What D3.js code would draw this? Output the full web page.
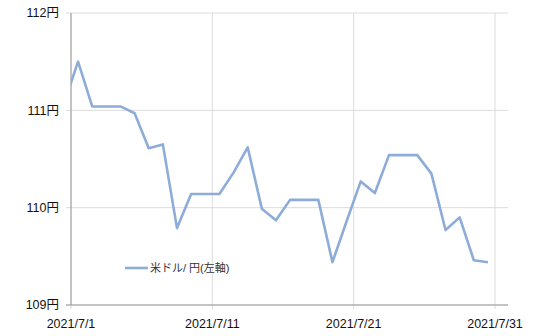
<html>
<head>
<meta charset="utf-8">
<style>
  body { margin: 0; background: #fff; }
  text { font-family: "Liberation Sans", Arial, "Noto Sans CJK JP", sans-serif; }
</style>
</head>
<body>
<svg id="chart" width="540" height="336"></svg>
<script src="https://cdn.jsdelivr.net/npm/d3@7"></script>
<script>
// daily USD/JPY (6/30 is only partly visible at the left edge)
const dates = [
  "2021-06-30", "2021-07-01", "2021-07-02", "2021-07-03", "2021-07-04", "2021-07-05",
  "2021-07-06", "2021-07-07", "2021-07-08", "2021-07-09", "2021-07-10", "2021-07-11",
  "2021-07-12", "2021-07-13", "2021-07-14", "2021-07-15", "2021-07-16", "2021-07-17",
  "2021-07-18", "2021-07-19", "2021-07-20", "2021-07-21", "2021-07-22", "2021-07-23",
  "2021-07-24", "2021-07-25", "2021-07-26", "2021-07-27", "2021-07-28", "2021-07-29",
  "2021-07-30"
]
const usdjpy = [
  111.07, 111.50, 111.04, 111.04, 111.04, 110.97,
  110.61, 110.65, 109.79, 110.14, 110.14, 110.14,
  110.36, 110.62, 109.99, 109.87, 110.08, 110.08,
  110.08, 109.44, 109.86, 110.27, 110.15, 110.54,
  110.54, 110.54, 110.35, 109.77, 109.90, 109.46,
  109.44
]
const yTicks = [109, 110, 111, 112]
const xTicks = ["2021-07-01", "2021-07-11", "2021-07-21", "2021-07-31"]
const seriesName = "米ドル/ 円(左軸)"

const parse = d3.timeParse("%Y-%m-%d")
const data = dates.map((d, i) => ({ date: parse(d), value: usdjpy[i] }))

const plotL = 71, plotR = 508, plotT = 13, plotB = 305

let x = d3.scaleTime()
  .domain([parse("2021-07-01"), parse("2021-07-31")])
  .range([plotL, 495])
let y = d3.scaleLinear()
  .domain([109, 112])
  .range([plotB, plotT])

let svg = d3.select("#chart")

svg.append("defs").append("clipPath").attr("id", "plot")
  .append("rect")
  .attr("x", plotL).attr("y", 0)
  .attr("width", plotR - plotL).attr("height", 336)

// horizontal gridlines + y labels
svg.selectAll(".hgrid")
  .data(yTicks)
  .enter().append("line")
  .attr("x1", 66).attr("x2", plotR)
  .attr("y1", d => y(d)).attr("y2", d => y(d))
  .attr("stroke", "#dcdcdc")
  .attr("stroke-width", 1)

svg.selectAll(".ylab")
  .data(yTicks)
  .enter().append("text")
  .attr("x", 59)
  .attr("y", d => y(d))
  .attr("dy", "0.35em")
  .attr("text-anchor", "end")
  .attr("font-size", 12.5)
  .attr("fill", "#111")
  .text(d => d + "円")

// vertical gridlines + x labels
svg.selectAll(".vgrid")
  .data(xTicks)
  .enter().append("line")
  .attr("x1", d => x(parse(d))).attr("x2", d => x(parse(d)))
  .attr("y1", plotT).attr("y2", plotB + 4)
  .attr("stroke", "#dcdcdc")
  .attr("stroke-width", 1)

svg.selectAll(".xlab")
  .data(xTicks)
  .enter().append("text")
  .attr("x", d => x(parse(d)))
  .attr("y", 324)
  .attr("dy", "0.35em")
  .attr("text-anchor", "middle")
  .attr("font-size", 12.5)
  .attr("fill", "#111")
  .text(d => d3.timeFormat("%Y/%-m/%-d")(parse(d)))

// axis lines
svg.append("line")
  .attr("x1", plotL).attr("x2", plotL)
  .attr("y1", plotT).attr("y2", plotB)
  .attr("stroke", "#9a9a9a")
svg.append("line")
  .attr("x1", 66).attr("x2", plotR)
  .attr("y1", plotB).attr("y2", plotB)
  .attr("stroke", "#9a9a9a")

// the series, points sit at midday of each date
let line = d3.line()
  .x(d => x(d3.timeHour.offset(d.date, 12)))
  .y(d => y(d.value))

svg.append("path")
  .datum(data)
  .attr("clip-path", "url(#plot)")
  .attr("d", line)
  .attr("fill", "none")
  .attr("stroke", "#8eacd8")
  .attr("stroke-width", 2.6)
  .attr("stroke-linejoin", "round")

// legend
svg.append("line")
  .attr("x1", 125).attr("x2", 148)
  .attr("y1", 268).attr("y2", 268)
  .attr("stroke", "#8eacd8")
  .attr("stroke-width", 2.6)
svg.append("text")
  .attr("x", 150)
  .attr("y", 268)
  .attr("dy", "0.35em")
  .attr("font-size", 11)
  .attr("fill", "#333")
  .text(seriesName)
</script>
</body>
</html>
